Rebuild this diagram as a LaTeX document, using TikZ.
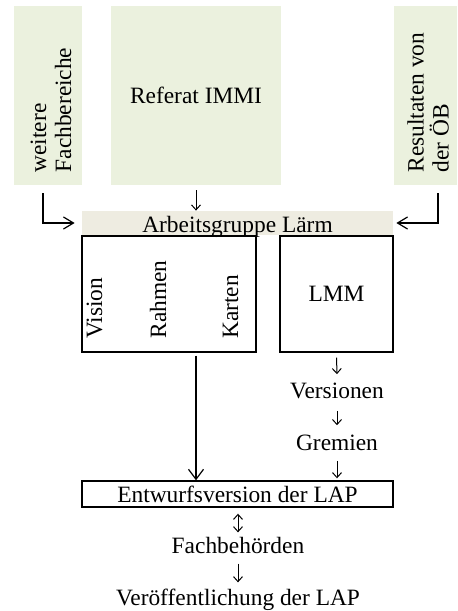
\documentclass[tikz,border=0pt]{standalone}
\usepackage{fontspec}
\setmainfont{Liberation Serif}
\usetikzlibrary{arrows.meta}
\definecolor{gruenton}{HTML}{EBF1DE}
\definecolor{balkenton}{HTML}{EEECE1}
\tikzset{
  schrift/.style={font=\fontsize{11.7}{12.5}\selectfont},
  gruen/.style={schrift, fill=gruenton, inner sep=0pt, minimum height=89.5pt},
  kasten/.style={schrift, draw, line width=0.7pt, inner sep=0pt},
  wort/.style={schrift, inner sep=2pt},
  senkrecht/.style={schrift, rotate=90, inner sep=0pt},
  pfeil/.style={line width=0.5pt, -{Straight Barb[length=2.5pt,width=4.5pt]}},
  doppelpfeil/.style={line width=0.5pt, {Straight Barb[length=2.5pt,width=4.5pt]}-{Straight Barb[length=2.5pt,width=4.5pt]}},
  langpfeil/.style={line width=0.6pt, -{Straight Barb[length=5pt,width=7.5pt]}},
  hakenpfeil/.style={line width=0.6pt, -{Straight Barb[length=5pt,width=6pt]}}
}
\begin{document}
\begin{tikzpicture}[x=0.5pt,y=-0.5pt]
\useasboundingbox (0,0) rectangle (457,611);
%%%%% START %%%%%

% obere Kaesten
\node[gruen, minimum width=34pt] (weitere) at (48,95.5) {};
\node[senkrecht, align=left] (weiteretxt) at (51,110) {weitere\\Fachbereiche};
\node[gruen, minimum width=85pt] (referat) at (196,95.5) {Referat IMMI};
\node[gruen, minimum width=31.5pt] (result) at (425.5,95.5) {};
\node[senkrecht, align=left] (resulttxt) at (428,102.5) {Resultaten von\\der ÖB};

% Arbeitsgruppe
\node[schrift, fill=balkenton, inner sep=0pt, minimum width=155.5pt, minimum height=12pt,
      text height=9pt, text depth=0pt] (ag) at (237.5,223) {Arbeitsgruppe Lärm};
\node[kasten, minimum width=87pt, minimum height=58pt] (inhalt) at (169,294) {};
\node[kasten, minimum width=56.5pt, minimum height=58pt] (lmm) at (336.5,294) {LMM};
\node[senkrecht, anchor=west] (vision) at (94.5,339) {Vision};
\node[senkrecht, anchor=west] (rahmen) at (158,339) {Rahmen};
\node[senkrecht, anchor=west] (karten) at (230.5,339) {Karten};

% Kette rechts
\node[wort] (versionen) at (337,390.5) {Versionen};
\node[wort] (gremien) at (337,442.5) {Gremien};

% unten
\node[kasten, minimum width=155.5pt, minimum height=13pt,
      text height=8pt, text depth=0pt] (entwurf) at (237.5,494) {Entwurfsversion der LAP};
\node[wort] (fachb) at (238,545) {Fachbehörden};
\node[wort] (veroeff) at (238,599.5) {Veröffentlichung der LAP};

% Pfeile
\coordinate (links) at (43,193);
\coordinate (rechts) at (438,193);
\draw[hakenpfeil, shorten >=3.5pt] (links) |- (ag.west);
\draw[hakenpfeil, shorten >=1.5pt] (rechts) |- (ag.east);
\draw[pfeil, shorten <=2.5pt] (referat.south) -- (ag.north -| referat.south);
\draw[langpfeil, shorten <=1.5pt] (inhalt.south -| referat.south) -- (entwurf.north -| referat.south);
\draw[pfeil, shorten <=2.5pt, shorten >=2pt] (lmm.south) -- (versionen.north);
\draw[pfeil, shorten <=4pt, shorten >=2.5pt] (versionen.south) -- (gremien.north);
\draw[pfeil, shorten <=3pt, shorten >=1pt] (gremien.south) -- (entwurf.north -| gremien.south);
\draw[doppelpfeil, shorten <=3pt] (entwurf.south -| fachb.north) -- (fachb.north);
\draw[pfeil, shorten <=3pt, shorten >=1pt] (fachb.south) -- (veroeff.north);

%%%%% END %%%%%
\end{tikzpicture}
\end{document}
